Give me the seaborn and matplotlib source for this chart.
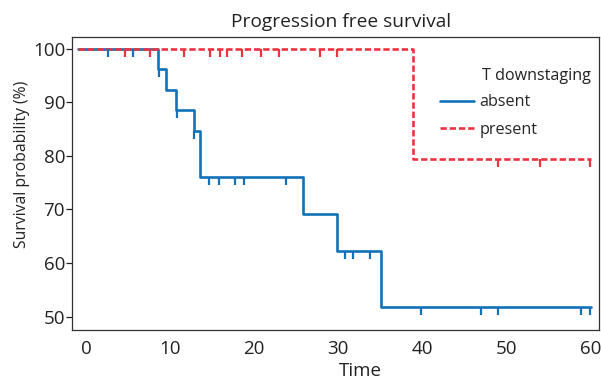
import numpy as np
import pandas as pd
import matplotlib
matplotlib.use("Agg")
import matplotlib.pyplot as plt
import seaborn as sns

# Kaplan-Meier step values
absent_time = [-1.0, 8.6, 9.5, 10.7, 12.8, 13.6, 25.8, 29.9, 35.1, 60.0]
absent_surv = [100.0, 96.2, 92.3, 88.5, 84.6, 76.0, 69.1, 62.2, 51.8, 51.8]
present_time = [-1.0, 38.9, 60.0]
present_surv = [100.0, 79.4, 79.4]

# censoring marks
absent_cens_time = [2.6, 5.6, 8.7, 10.8, 12.9, 14.6, 15.8, 17.7, 18.8, 23.8,
                    30.8, 31.7, 33.8, 39.8, 47.0, 49.0, 58.9, 59.9]
absent_cens_surv = [100.0, 100.0, 96.2, 88.5, 84.6, 76.0, 76.0, 76.0, 76.0, 76.0,
                    62.2, 62.2, 62.2, 51.8, 51.8, 51.8, 51.8, 51.8]
present_cens_time = [4.6, 7.6, 11.7, 14.7, 15.9, 16.8, 18.6, 20.8, 22.9, 27.8,
                     29.8, 49.0, 54.0, 59.9]
present_cens_surv = [100.0] * 11 + [79.4] * 3

groups = ["absent", "present"]
colors = {"absent": "#1271b7", "present": "#ee3340"}

df = pd.concat([
    pd.DataFrame({"time": absent_time, "surv": absent_surv, "group": "absent"}),
    pd.DataFrame({"time": present_time, "surv": present_surv, "group": "present"}),
])

sns.set_theme(style="white")
plt.rcParams["font.family"] = ["Open Sans", "DejaVu Sans"]

fig = plt.figure(figsize=(6.01, 3.84), dpi=100)
ax = fig.add_axes([0.1198, 0.1406, 0.8769, 0.763])

sns.lineplot(data=df, x="time", y="surv", hue="group", style="group",
             palette=colors, dashes={"absent": "", "present": (2.4, 1.1)},
             drawstyle="steps-post", estimator=None, sort=False,
             linewidth=1.9, ax=ax)

tick = [(0, 0), (0, -1)]
for t, s, g in [(absent_cens_time, absent_cens_surv, "absent"),
                (present_cens_time, present_cens_surv, "present")]:
    ax.plot(t, s, linestyle="none", marker=tick, markersize=11.5,
            markeredgewidth=1.6, color=colors[g], zorder=3)

ax.set_xlim(-1.66, 61.0)
ax.set_ylim(47.5, 102.2)
ax.set_xticks([0, 10, 20, 30, 40, 50, 60])
ax.set_yticks([50, 60, 70, 80, 90, 100])
ax.tick_params(axis="x", length=0, pad=7, labelsize=13.5, colors="#222222")
ax.tick_params(axis="y", left=True, length=4, width=0.9, pad=1,
               labelsize=13.5, colors="#222222")
for sp in ax.spines.values():
    sp.set_color("#333333")
    sp.set_linewidth(0.9)

ax.set_title("Progression free survival", fontsize=13.8, x=0.510, y=1.0, pad=7,
             color="#222222")
ax.set_xlabel("Time", fontsize=13.5, color="#222222")
ax.xaxis.set_label_coords(0.548, -0.108)
ax.set_ylabel("Survival probability (%)", fontsize=11.3, color="#222222")
ax.yaxis.set_label_coords(-0.08, 0.567)

sns.move_legend(ax, "center left", bbox_to_anchor=(0.698, 0.730), title=None,
                frameon=False, fontsize=11.6, handlelength=2.1,
                handletextpad=0.35, borderpad=0, borderaxespad=0,
                labelspacing=0.72)
ax.text(0.778, 0.867, "T downstaging", transform=ax.transAxes,
        fontsize=11.6, ha="left", va="center", color="#222222")

fig.savefig("out.png", dpi=100)
